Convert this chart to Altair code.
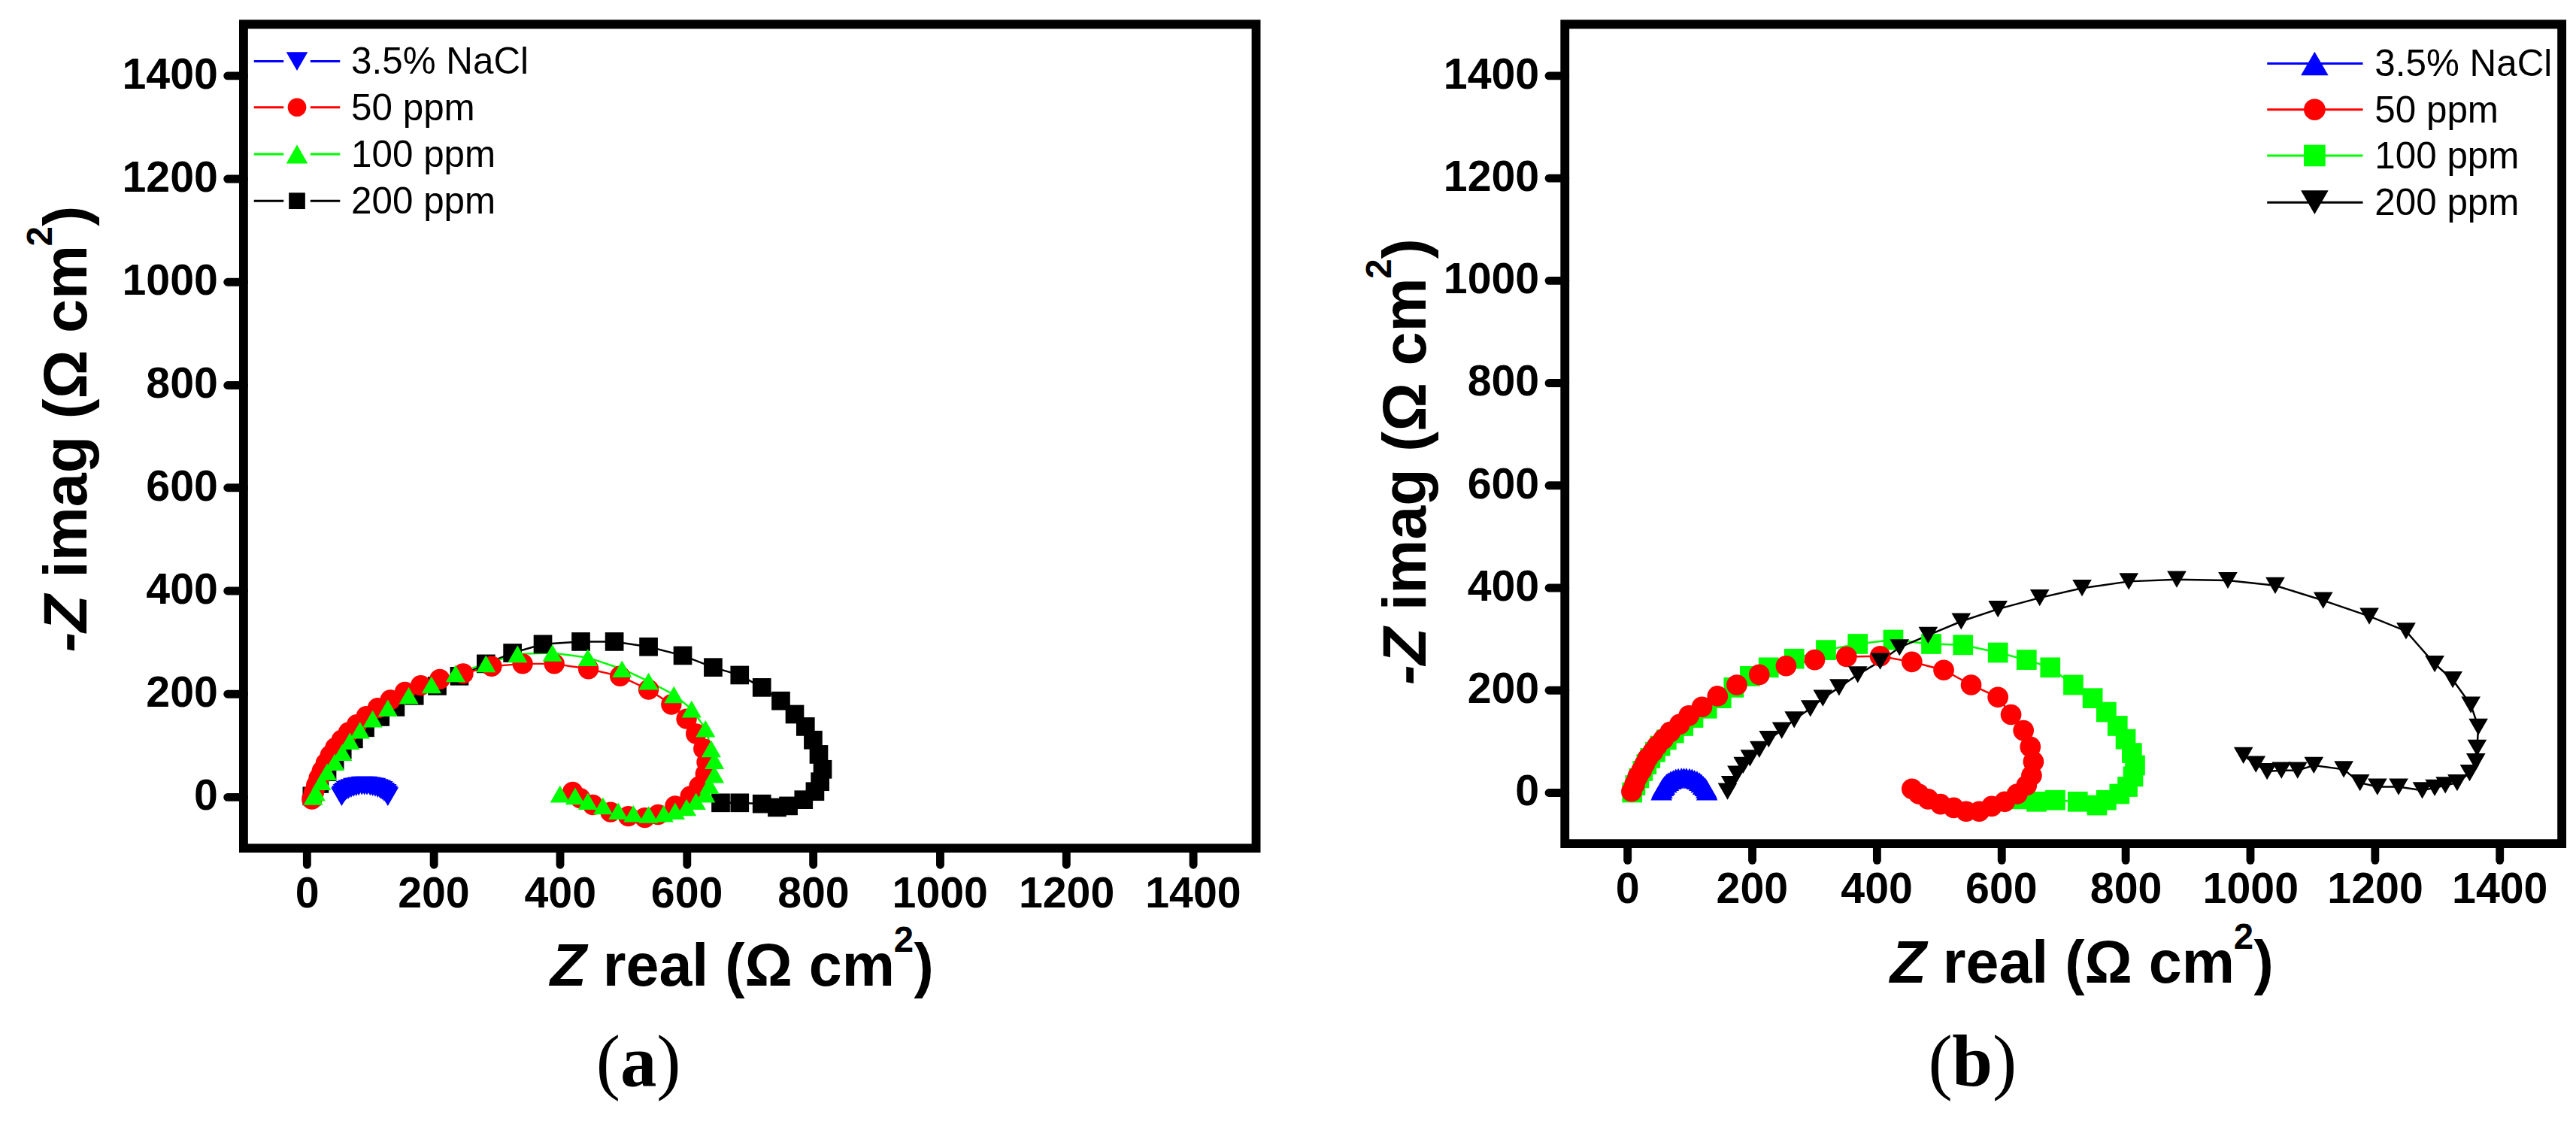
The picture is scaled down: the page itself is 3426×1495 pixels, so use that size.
import altair as alt
import pandas as pd

SERIES = ["3.5% NaCl", "50 ppm", "100 ppm", "200 ppm"]
COLORS = ["#0000ff", "#ff0000", "#00ff00", "#000000"]
SHAPES_A = ["triangle-down", "circle", "triangle-up", "square"]
SHAPES_B = ["triangle-up", "circle", "square", "triangle-down"]
TICK_VALUES = [0, 200, 400, 600, 800, 1000, 1200, 1400]
X_TITLE = ["Z", "real (Ω cm", "2", ")"]
Y_TITLE = ["-Z", "imag (Ω cm", "2", ")"]
TAGS = ["a", "b"]

# ---------- panel (a) ----------
a_nacl_x = [55, 56, 58, 60, 63, 66, 70, 74, 78, 82, 87, 91, 95, 100, 104, 108, 112, 116, 119, 122, 125, 127, 128]
a_nacl_y = [0, 3, 6, 9, 12, 14, 16, 18, 19, 20, 21, 21, 21, 20, 19, 18, 16, 14, 12, 9, 6, 3, 0]

a_50_x = [8, 11, 15, 19, 24, 30, 37, 45, 55, 66, 79, 94, 112, 132, 155, 180, 210, 247, 292, 341,
          391, 445, 495, 540, 576, 600, 615, 627, 632, 630, 620, 606, 582, 555, 534, 508, 480, 452, 432, 420]
a_50_y = [-5, 8, 22, 36, 50, 65, 80, 95, 110, 125, 140, 156, 172, 188, 203, 216, 228, 239, 253, 258,
          258, 248, 234, 208, 179, 151, 122, 93, 67, 44, 20, 1, -18, -35, -41, -38, -30, -16, -3, 9]

a_100_x = [10, 14, 23, 32, 44, 56, 68, 84, 104, 128, 161, 197, 235, 283, 333, 388, 444, 498, 540, 580,
           608, 630, 639, 644, 644, 636, 630, 615, 600, 582, 564, 540, 516, 492, 468, 444, 424, 400]
a_100_y = [0, 8, 29, 48, 67, 86, 108, 129, 151, 172, 196, 217, 239, 258, 277, 279, 270, 248, 224, 198,
           170, 132, 93, 70, 43, 22, 5, -9, -21, -28, -33, -35, -33, -28, -18, -9, 1, 5]

a_200_x = [8, 20, 32, 44, 56, 74, 92, 116, 140, 170, 206, 241, 283, 325, 373, 433, 486, 540, 594, 642,
           684, 719, 749, 771, 788, 800, 809, 815, 811, 803, 785, 761, 743, 719, 684, 654]
a_200_y = [1, 25, 48, 70, 91, 112, 134, 155, 174, 196, 215, 234, 258, 279, 296, 301, 301, 291, 274, 251,
           236, 212, 186, 160, 136, 110, 82, 53, 29, 10, -6, -18, -21, -14, -12, -12]

# ---------- panel (b) ----------
b_nacl_x = [55, 56, 58, 60, 63, 66, 70, 74, 78, 82, 87, 91, 95, 100, 104, 108, 112, 116, 119, 122, 125, 127, 128]
b_nacl_y = [3, 7, 11, 14, 18, 21, 24, 26, 28, 29, 30, 30, 30, 29, 28, 26, 24, 21, 18, 14, 11, 7, 3]

b_50_x = [7, 12, 17, 23, 28, 33, 41, 48, 58, 69, 84, 99, 120, 145, 176, 212, 255, 301, 352, 406,
          457, 508, 552, 595, 616, 636, 647, 652, 649, 641, 626, 606, 585, 565, 544, 524, 503, 483, 468, 457]
b_50_y = [2, 16, 31, 43, 55, 67, 79, 91, 104, 118, 133, 150, 167, 188, 210, 230, 247, 259, 265, 266,
          255, 239, 210, 186, 152, 121, 89, 60, 33, 14, -3, -18, -27, -37, -37, -30, -23, -13, -3, 7]

b_100_x = [8, 13, 19, 25, 31, 37, 45, 53, 63, 75, 90, 106, 128, 151, 171, 197, 227, 268, 319, 370,
           427, 488, 539, 595, 641, 679, 716, 747, 769, 787, 800, 810, 815, 812, 803, 790, 769, 754, 723, 687,
           657, 626]
b_100_y = [0, 14, 28, 42, 55, 67, 79, 91, 103, 116, 130, 146, 164, 184, 205, 227, 244, 261, 278, 290,
           298, 290, 288, 273, 259, 244, 210, 184, 157, 130, 104, 77, 53, 31, 11, -3, -15, -25, -18, -15,
           -18, -13]

b_200_x = [161, 166, 176, 186, 197, 212, 227, 248, 268, 294, 314, 340, 370, 406, 437, 483, 536, 595, 662, 730,
           805, 882, 964, 1040, 1117, 1191, 1250, 1296, 1325, 1354, 1366, 1364, 1362, 1352, 1332, 1313, 1296, 1276,
           1238, 1204, 1176, 1150, 1102, 1076, 1050, 1027, 1009, 989]
b_200_y = [2, 16, 36, 53, 67, 84, 104, 121, 142, 164, 184, 205, 230, 256, 283, 307, 334, 358, 380, 399,
           412, 416, 414, 404, 375, 344, 315, 251, 220, 171, 128, 87, 60, 38, 19, 14, 9, 4,
           11, 11, 19, 45, 53, 43, 43, 41, 55, 72]

FONT = "Liberation Sans"
SERIF = "Liberation Serif"


def build_df(xs, ys, draw_order):
    rows = []
    for s in draw_order:
        for i, (x, y) in enumerate(zip(xs[s], ys[s])):
            rows.append({"series": SERIES[s], "zr": x, "zi": y, "idx": i})
    return pd.DataFrame(rows)


def txt(text, x, y, **kw):
    return alt.Chart(pd.DataFrame({"t": [text]})).mark_text(**kw).encode(
        x=alt.value(x), y=alt.value(y), text="t:N")


def panel(df, shapes, sizes, w, h, leg, leg_sizes, yt_x, yt_p, xt_x0, xt_base, tag, tag_cx, tag_base, tag_w):
    axis_common = dict(values=TICK_VALUES, title=None, domain=False, grid=False, format="d",
                       tickSize=22, tickWidth=11, tickCap="round", tickColor="black",
                       labelFont=FONT, labelFontSize=58, labelFontWeight="bold",
                       labelColor="black", labelFlush=False, labelOverlap=False)
    xenc = alt.X("zr:Q", scale=alt.Scale(domain=[-100, 1500], nice=False, zero=False),
                 axis=alt.Axis(labelPadding=11, **axis_common))
    yenc = alt.Y("zi:Q", scale=alt.Scale(domain=[-100, 1500], nice=False, zero=False),
                 axis=alt.Axis(labelPadding=13, **axis_common))
    color = alt.Color("series:N", scale=alt.Scale(domain=SERIES, range=COLORS), legend=None)
    shape = alt.Shape("series:N", scale=alt.Scale(domain=SERIES, range=shapes), legend=None)
    size = alt.Size("series:N", scale=alt.Scale(domain=SERIES, range=sizes), legend=None)
    base = alt.Chart(df)
    lines = base.mark_line(strokeWidth=2.5).encode(x=xenc, y=yenc, color=color, order=alt.Order("idx:Q"))
    pts = base.mark_point(filled=True, opacity=1, strokeWidth=0).encode(
        x=xenc, y=yenc, color=color, shape=shape, size=size)
    layers = [lines, pts]

    # legend (drawn by hand: line segments + marker + label)
    segments, sx, tx, rows = leg
    for i, name in enumerate(SERIES):
        d = pd.DataFrame({"s": [name]})
        for (lx1, lx2) in segments:
            layers.append(alt.Chart(d).mark_rule(strokeWidth=3, color=COLORS[i]).encode(
                x=alt.value(lx1), x2=alt.value(lx2), y=alt.value(rows[i])))
        layers.append(alt.Chart(d).mark_point(filled=True, opacity=1, strokeWidth=0, shape=shapes[i],
                                              size=leg_sizes[i], color=COLORS[i]).encode(
            x=alt.value(sx), y=alt.value(rows[i])))
        layers.append(alt.Chart(d).mark_text(align="left", baseline="middle", font=FONT, fontSize=50,
                                             color="black").encode(
            x=alt.value(tx), y=alt.value(rows[i] + 2), text="s:N"))

    # axis titles: italic Z and raised superscript 2
    tstyle = dict(font=FONT, fontWeight="bold", color="black", baseline="alphabetic")
    ymain = yt_p - 23
    yend = ymain - 446
    layers.append(txt(Y_TITLE[0], yt_x, yt_p, angle=270, align="right", fontSize=82, fontStyle="italic", **tstyle))
    layers.append(txt(Y_TITLE[1], yt_x, ymain, angle=270, align="left", fontSize=82, **tstyle))
    layers.append(txt(Y_TITLE[2], yt_x - 46, yend - 1, angle=270, align="left", fontSize=48, **tstyle))
    layers.append(txt(Y_TITLE[3], yt_x, yend - 28, angle=270, align="left", fontSize=82, **tstyle))

    xmain = xt_x0 + 22
    xend = xmain + 391
    layers.append(txt(X_TITLE[0], xt_x0, xt_base, align="right", fontSize=80, fontStyle="italic", **tstyle))
    layers.append(txt(X_TITLE[1], xmain, xt_base, align="left", fontSize=80, **tstyle))
    layers.append(txt(X_TITLE[2], xend + 1, xt_base - 45, align="left", fontSize=48, **tstyle))
    layers.append(txt(X_TITLE[3], xend + 28, xt_base, align="left", fontSize=80, **tstyle))

    # panel tag "(a)" / "(b)"
    pstyle = dict(font=SERIF, color="black", baseline="alphabetic", fontSize=98)
    layers.append(txt("(", tag_cx - tag_w / 2, tag_base, align="right", **pstyle))
    layers.append(txt(tag, tag_cx, tag_base, align="center", fontWeight="bold", **pstyle))
    layers.append(txt(")", tag_cx + tag_w / 2, tag_base, align="left", **pstyle))

    return alt.layer(*layers).properties(width=w, height=h)


df_a = build_df([a_nacl_x, a_50_x, a_100_x, a_200_x], [a_nacl_y, a_50_y, a_100_y, a_200_y], [3, 1, 2, 0])
df_b = build_df([b_nacl_x, b_50_x, b_100_x, b_200_x], [b_nacl_y, b_50_y, b_100_y, b_200_y], [2, 1, 3, 0])

chart_a = panel(df_a, SHAPES_A, [841, 625, 841, 484], 1364, 1110,
                ([(14, 54), (90, 130)], 72, 145, [50, 112, 175, 238]), [841, 625, 841, 484],
                -212, 769, 462, 1295, TAGS[0], 532, 1430, 49)
chart_b = panel(df_b, SHAPES_B, [841, 676, 400, 900], 1343, 1104,
                ([(946, 1075)], 1010, 1091, [53, 115, 177, 240]), [1369, 841, 841, 1369],
                -188, 813, 487, 1291, TAGS[1], 549, 1430, 54)

chart = alt.hconcat(chart_a, chart_b, spacing=132).resolve_scale(
    color="independent", shape="independent", size="independent"
).properties(
    padding={"left": 18, "top": 9, "right": 5, "bottom": 5}
).configure_view(stroke="black", strokeWidth=12)

chart.save("out.html", embed_options={"renderer": "svg", "actions": False})
